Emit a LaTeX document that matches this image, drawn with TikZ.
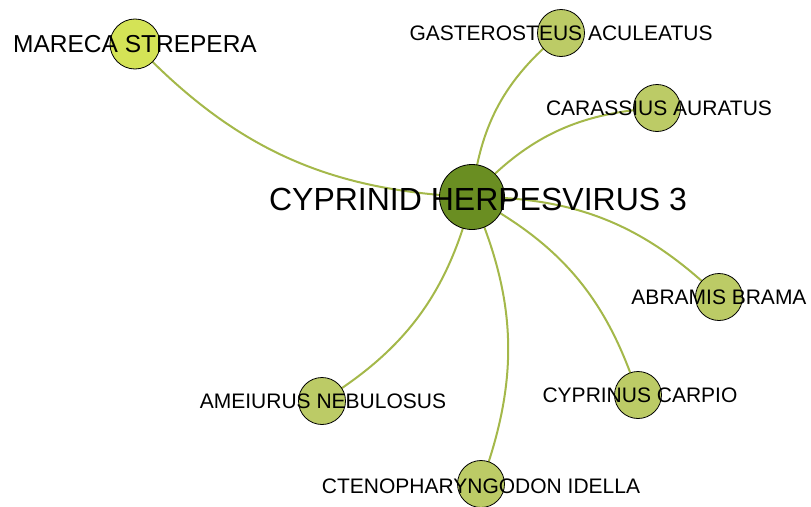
\documentclass[tikz,border=0pt]{standalone}
\usepackage{fontspec}
\setmainfont{Liberation Sans}
\definecolor{edgecol}{HTML}{A4B84A}
\definecolor{hubcol}{HTML}{6A8E22}
\definecolor{leafcol}{HTML}{BCCB66}
\definecolor{lightleaf}{HTML}{D4E356}
\tikzset{
  vnode/.style={circle, draw=black, line width=0.8pt, fill=leafcol, minimum size=47pt, inner sep=0pt},
  hub/.style={vnode, fill=hubcol, minimum size=65pt},
  lab/.style={font=\fontsize{21}{21}\selectfont, text=black, inner sep=0pt},
  biglab/.style={font=\fontsize{24.5}{24.5}\selectfont, text=black, inner sep=0pt},
  hublab/.style={font=\fontsize{32}{32}\selectfont, text=black, inner sep=0pt},
  edge/.style={draw=edgecol, line width=2pt, bend left=22}
}
\begin{document}
\begin{tikzpicture}[x=1pt,y=-1pt]
\useasboundingbox (0,0) rectangle (811,506);
% coordinates of vertices
\coordinate (cC) at (472,197);
\coordinate (cM) at (135,44);
\coordinate (cG) at (561,33);
\coordinate (cCa) at (657,108);
\coordinate (cA) at (719,297);
\coordinate (cCy) at (638,395);
\coordinate (cAm) at (322,401);
\coordinate (cCt) at (481,484);
% edges
\draw[edge] (cC) to (cM);
\draw[edge] (cC) to (cG);
\draw[edge] (cC) to (cCa);
\draw[edge] (cC) to (cA);
\draw[edge] (cC) to (cCy);
\draw[edge] (cC) to (cAm);
\draw[edge] (cC) to (cCt);
% vertices
\node[hub] (hub) at (cC) {};
\node[vnode, fill=lightleaf, minimum size=50pt] (mar) at (cM) {};
\node[vnode] (gas) at (cG) {};
\node[vnode] (car) at (cCa) {};
\node[vnode] (abr) at (cA) {};
\node[vnode] (cyp) at (cCy) {};
\node[vnode] (ame) at (cAm) {};
\node[vnode] (cte) at (cCt) {};
% labels
\node[hublab] (lhub) at (478,199) {CYPRINID HERPESVIRUS 3};
\node[biglab] (lmar) at (135,44) {MARECA STREPERA};
\node[lab] (lgas) at (561,33) {GASTEROSTEUS ACULEATUS};
\node[lab] (lcar) at (659,108) {CARASSIUS AURATUS};
\node[lab] (labr) at (719,297) {ABRAMIS BRAMA};
\node[lab] (lcyp) at (640,395) {CYPRINUS CARPIO};
\node[lab] (lame) at (323,401) {AMEIURUS NEBULOSUS};
\node[lab] (lcte) at (481,486) {CTENOPHARYNGODON IDELLA};
\end{tikzpicture}
\end{document}
